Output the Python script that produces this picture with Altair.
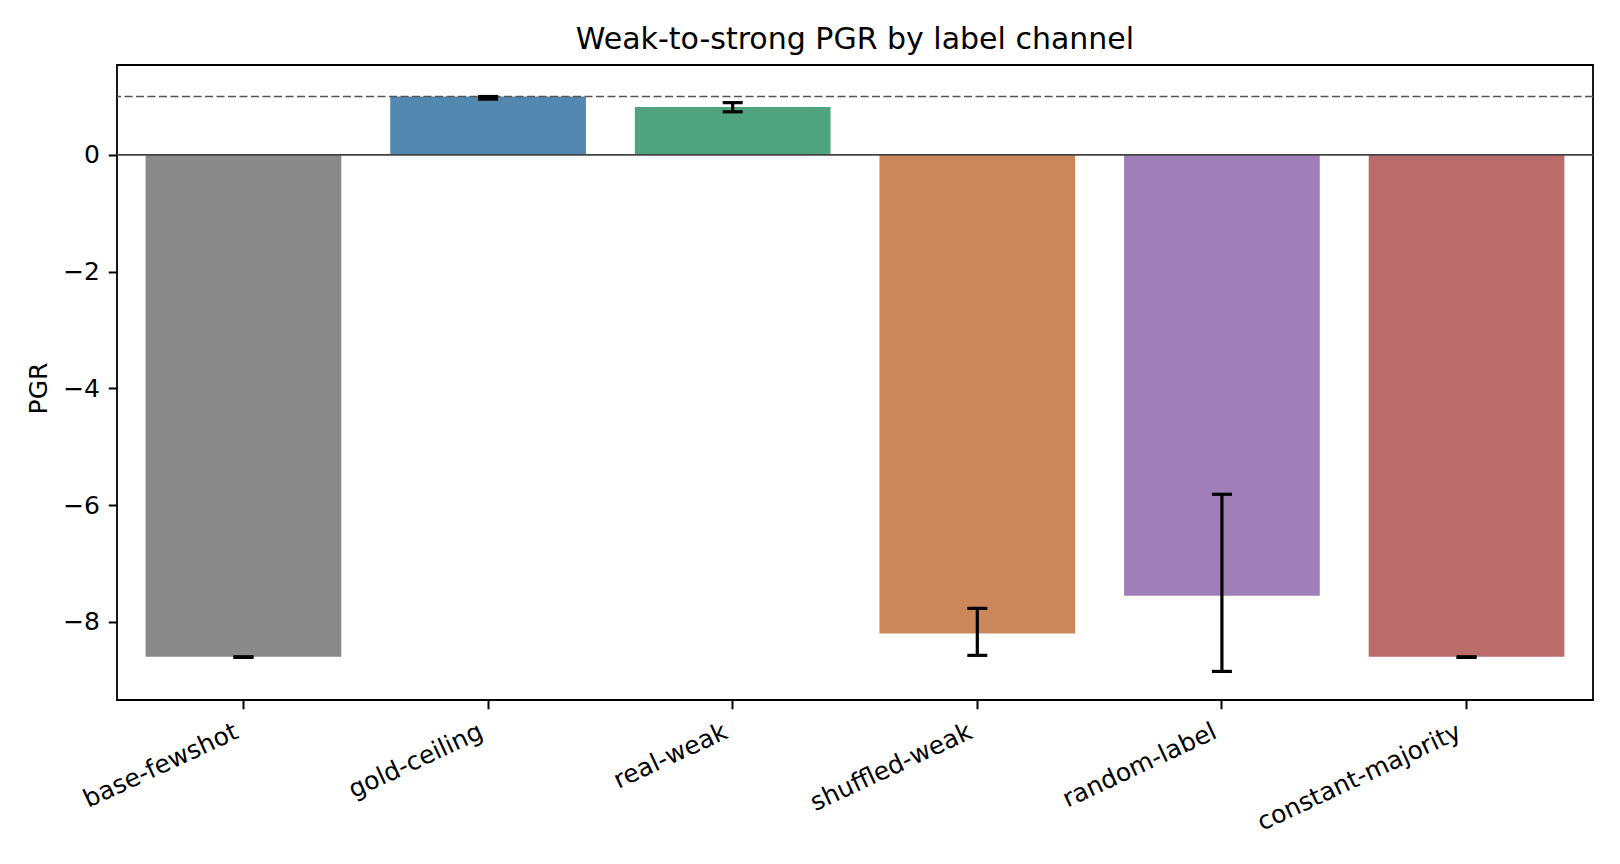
import altair as alt
import pandas as pd

# PGR per label channel, with the lower / upper ends of each error bar
channels = ["base-fewshot", "gold-ceiling", "real-weak",
            "shuffled-weak", "random-label", "constant-majority"]
pgr = [-8.60, 1.00, 0.82, -8.20, -7.555, -8.60]
err_low = [-8.61, 0.955, 0.738, -8.575, -8.85, -8.61]
err_high = [-8.60, 1.00, 0.895, -7.77, -5.815, -8.60]
bar_colors = ["#8a8a8a", "#5389b1", "#4fa37f", "#cb8659", "#a07fb8", "#bc6b6b"]

df = pd.DataFrame({"channel": channels, "pgr": pgr, "lo": err_low, "hi": err_high})

FONT = "DejaVu Sans"
W, H = 1476, 635

x_enc = alt.X(
    "channel:N",
    sort=channels,
    scale=alt.Scale(paddingInner=0.2, paddingOuter=0.117),
    axis=alt.Axis(title=None, labelAngle=-25, labelAlign="right",
                  labelBaseline="top", labelOffset=-12, labelPadding=10,
                  labelLimit=0),
)
y_scale = alt.Scale(domain=[-9.34, 1.54], nice=False, zero=False)

base = alt.Chart(df)

bars = base.mark_bar().encode(
    x=x_enc,
    y=alt.Y("pgr:Q", scale=y_scale,
            axis=alt.Axis(values=[-8, -6, -4, -2, 0], format="d", title="PGR",
                          titleX=-79, titleY=323, titleAngle=270,
                          titleBaseline="middle", titleAlign="center")),
    color=alt.Color("channel:N", sort=channels,
                    scale=alt.Scale(domain=channels, range=bar_colors), legend=None),
)

zero_line = alt.Chart(pd.DataFrame({"v": [0.0]})).mark_rule(
    color="#444444", strokeWidth=1.6
).encode(y=alt.Y("v:Q", scale=y_scale))

ceiling_line = alt.Chart(pd.DataFrame({"v": [1.0]})).mark_rule(
    color="#555555", strokeWidth=1.4, strokeDash=[8, 3.5]
).encode(y=alt.Y("v:Q", scale=y_scale))

err_rule = base.mark_rule(color="black", strokeWidth=3.2).encode(
    x=alt.X("channel:N", sort=channels),
    y=alt.Y("lo:Q", scale=y_scale),
    y2="hi:Q",
)
cap_lo = base.mark_tick(color="black", size=20, thickness=3.2, opacity=1).encode(
    x=alt.X("channel:N", sort=channels),
    y=alt.Y("lo:Q", scale=y_scale),
)
cap_hi = base.mark_tick(color="black", size=20, thickness=3.2, opacity=1).encode(
    x=alt.X("channel:N", sort=channels),
    y=alt.Y("hi:Q", scale=y_scale),
)

chart = (
    alt.layer(bars, zero_line, ceiling_line, err_rule, cap_lo, cap_hi)
    .properties(
        width=W,
        height=H,
        background="white",
        autosize=alt.AutoSizeParams(type="none"),
        padding={"left": 117, "top": 65, "right": 27, "bottom": 164},
        title=alt.Title("Weak-to-strong PGR by label channel", font=FONT,
                        fontSize=30, fontWeight="normal", color="black",
                        anchor="middle", baseline="alphabetic", offset=-14),
    )
    .configure_view(stroke="black", strokeWidth=1.8)
    .configure_axis(
        grid=False, domain=False,
        tickColor="black", tickWidth=2, tickSize=8.75,
        labelColor="black", labelFont=FONT, labelFontSize=25, labelPadding=8.75,
        titleColor="black", titleFont=FONT, titleFontSize=25, titleFontWeight="normal",
    )
)

chart.save("out.html", embed_options={"renderer": "svg", "actions": False})
